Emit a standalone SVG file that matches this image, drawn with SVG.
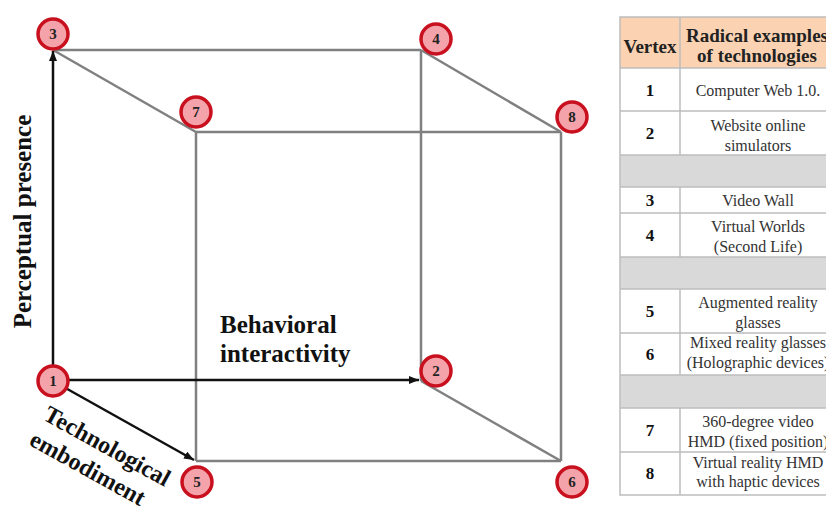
<svg xmlns="http://www.w3.org/2000/svg" width="826" height="507" viewBox="0 0 826 507">
<defs>
<marker id="ah" markerWidth="10" markerHeight="8" refX="10" refY="4" orient="auto" markerUnits="userSpaceOnUse">
<path d="M0,0 L10,4 L0,8 Z" fill="#111"/>
</marker>
<style>
.g{stroke:#808080;stroke-width:2.5;fill:none}
.k{stroke:#111;stroke-width:2.5;fill:none;marker-end:url(#ah)}
.v circle{fill:#f4a3aa;stroke:#c8101e;stroke-width:3.5}
.v text{font-family:"Liberation Serif",serif;font-weight:bold;font-size:15px;fill:#222;text-anchor:middle}
.lab{font-family:"Liberation Serif",serif;font-weight:bold;font-size:25px;fill:#111}
.tb{stroke:#bdbdbd;stroke-width:1.5;fill:none}
.th{font-family:"Liberation Serif",serif;font-weight:bold;font-size:19px;fill:#222;text-anchor:middle}
.tn{font-family:"Liberation Serif",serif;font-weight:bold;font-size:17px;fill:#111;text-anchor:middle}
.tt{font-family:"Liberation Serif",serif;font-size:16px;fill:#333;text-anchor:middle}
</style>
</defs>
<rect width="826" height="507" fill="#fff"/>
<g id="connectors">
<line class="g" x1="53" y1="50" x2="421" y2="50"/>
<line class="g" x1="421" y1="50" x2="421" y2="381"/>
<line class="g" x1="196" y1="132" x2="561" y2="132"/>
<line class="g" x1="561" y1="132" x2="561" y2="461"/>
<line class="g" x1="196" y1="461" x2="561" y2="461"/>
<line class="g" x1="196" y1="132" x2="196" y2="461"/>
<line class="g" x1="53" y1="50" x2="196" y2="132"/>
<line class="g" x1="421" y1="50" x2="561" y2="132"/>
<line class="g" x1="421" y1="381" x2="561" y2="461"/>
<line class="k" x1="53" y1="381" x2="53" y2="51"/>
<line class="k" x1="53" y1="380" x2="419" y2="380"/>
<line class="k" x1="53" y1="381" x2="194" y2="460"/>
</g>
<g id="v1" class="v"><circle cx="53" cy="381" r="15"/><text x="53" y="386">1</text></g>
<g id="v2" class="v"><circle cx="436" cy="371" r="15"/><text x="436" y="376">2</text></g>
<g id="v3" class="v"><circle cx="53" cy="34" r="15"/><text x="53" y="39">3</text></g>
<g id="v4" class="v"><circle cx="436" cy="39" r="15"/><text x="436" y="44">4</text></g>
<g id="v5" class="v"><circle cx="197" cy="482" r="15"/><text x="197" y="487">5</text></g>
<g id="v6" class="v"><circle cx="572" cy="482" r="15"/><text x="572" y="487">6</text></g>
<g id="v7" class="v"><circle cx="196" cy="112" r="15"/><text x="196" y="117">7</text></g>
<g id="v8" class="v"><circle cx="572" cy="117" r="15"/><text x="572" y="122">8</text></g>
<g id="axis-labels">
<text class="lab" transform="translate(31,221.5) rotate(-90)" text-anchor="middle">Perceptual presence</text>
<text class="lab" x="220" y="333">Behavioral</text>
<text class="lab" x="220" y="362">interactivity</text>
<text class="lab" style="font-size:24px" transform="translate(42,419) rotate(29)"><tspan x="0" y="0">Technological</tspan><tspan x="0" y="29">embodiment</tspan></text>
</g>
<g id="table">
<rect x="620" y="17" width="212" height="51" fill="#fbd3b3"/>
<rect x="620" y="155" width="212" height="32" fill="#d9d9d9"/>
<rect x="620" y="257" width="212" height="32" fill="#d9d9d9"/>
<rect x="620" y="375" width="212" height="33" fill="#d9d9d9"/>
<rect class="tb" x="620" y="17" width="212" height="478"/>
<path class="tb" d="M620,68H832M620,111H832M620,155H832M620,187H832M620,213H832M620,257H832M620,289H832M620,333H832M620,375H832M620,408H832M620,452H832"/>
<path class="tb" d="M680,17V155M680,187V257M680,289V375M680,408V495"/>
<text class="th" x="650" y="53">Vertex</text>
<text class="th" x="757" y="42">Radical examples</text>
<text class="th" x="757" y="62">of technologies</text>
<text class="tn" x="650" y="96">1</text>
<text class="tt" x="758" y="96">Computer Web 1.0.</text>
<text class="tn" x="650" y="139">2</text>
<text class="tt" x="758" y="131">Website online</text>
<text class="tt" x="758" y="151">simulators</text>
<text class="tn" x="650" y="206">3</text>
<text class="tt" x="758" y="206">Video Wall</text>
<text class="tn" x="650" y="241">4</text>
<text class="tt" x="758" y="232">Virtual Worlds</text>
<text class="tt" x="758" y="252">(Second Life)</text>
<text class="tn" x="650" y="317">5</text>
<text class="tt" x="758" y="308">Augmented reality</text>
<text class="tt" x="758" y="328">glasses</text>
<text class="tn" x="650" y="360">6</text>
<text class="tt" x="758" y="348">Mixed reality glasses</text>
<text class="tt" x="758" y="368">(Holographic devices)</text>
<text class="tn" x="650" y="436">7</text>
<text class="tt" x="758" y="427">360-degree video</text>
<text class="tt" x="758" y="447">HMD (fixed position)</text>
<text class="tn" x="650" y="479">8</text>
<text class="tt" x="758" y="468">Virtual reality HMD</text>
<text class="tt" x="758" y="487">with haptic devices</text>
</g>
</svg>
